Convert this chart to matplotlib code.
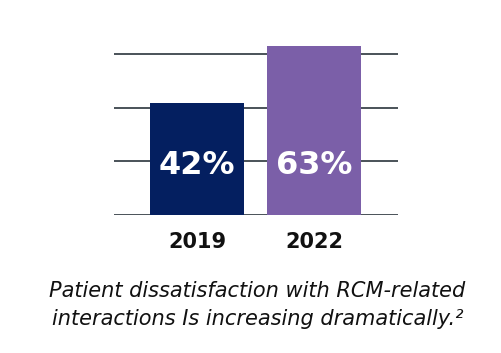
import matplotlib
matplotlib.use("Agg")
import matplotlib.pyplot as plt

years = ["2019", "2022"]
values = [42, 63]
bar_colors = ["#041f60", "#7b5fa8"]
gridlines = [0, 20, 40, 60]
caption = "Patient dissatisfaction with RCM-related\ninteractions Is increasing dramatically.\u00b2"

plt.rcParams['font.family'] = ['DejaVu Sans']

fig = plt.figure(figsize=(5.02, 3.53), dpi=100)
ax = fig.add_axes([0.227, 0.391, 0.566, 0.531])

x = range(len(years))
bars = ax.bar(x, values, width=0.805, color=bar_colors, zorder=2)
for g in gridlines:
    ax.axhline(g, color="#3b444b", linewidth=1.3, zorder=1)

for b, v in zip(bars, values):
    ax.text(b.get_x() + b.get_width() / 2, 18.5, f"{v}%", ha="center", va="center",
            color="white", fontsize=23, fontweight="bold", zorder=3)

ax.set_xlim(-0.71, 1.72)
ax.set_ylim(0, 70)
ax.set_xticks(list(x))
ax.set_xticklabels(years, fontsize=15, fontweight="bold", color="#111111")
ax.tick_params(axis="x", length=0, pad=12)
ax.set_yticks([])
for s in ax.spines.values():
    s.set_visible(False)

fig.text(0.513, 0.137, caption, ha="center", va="center", fontsize=15,
         style="italic", color="#111111", linespacing=1.5)

fig.savefig("out.png", dpi=100)
